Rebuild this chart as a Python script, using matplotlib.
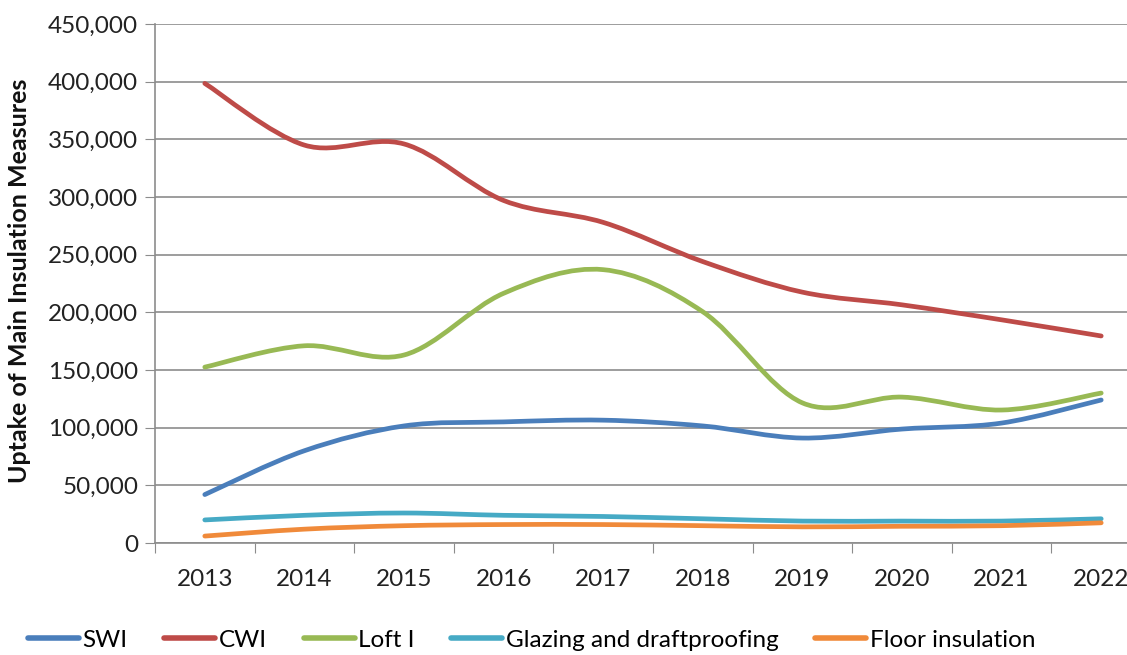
import matplotlib
matplotlib.use("Agg")
import matplotlib.pyplot as plt
from matplotlib.path import Path
from matplotlib.patches import PathPatch
from matplotlib.lines import Line2D
from matplotlib.ticker import FuncFormatter, MultipleLocator
import numpy as np

plt.rcParams['font.family'] = ['Lato', 'DejaVu Sans']

years = ['2013', '2014', '2015', '2016', '2017', '2018', '2019', '2020', '2021', '2022']
swi = [42000, 80000, 101500, 105000, 106500, 101500, 91000, 98800, 104000, 124000]
cwi = [398500, 345000, 346000, 297000, 278000, 244000, 217500, 206500, 193500, 179500]
loft = [152500, 171000, 163000, 216500, 237000, 200500, 121500, 126500, 115300, 130000]
glazing = [20000, 24000, 26000, 24000, 23000, 21000, 19000, 19000, 19000, 21000]
floor = [6000, 12000, 15000, 16000, 16000, 15000, 14000, 14500, 15000, 17500]

names = ['SWI', 'CWI', 'Loft I', 'Glazing and draftproofing', 'Floor insulation']
colours = ['#4a7ebb', '#be4b48', '#98b954', '#46aac5', '#f08a3a']


# excel-ish smoothed line: bezier segments through the points
def smooth_path(xs, ys, t=1.0 / 6):
    xs = np.asarray(xs, float)
    ys = np.asarray(ys, float)
    n = len(xs)
    verts = [(xs[0], ys[0])]
    codes = [Path.MOVETO]
    for i in range(n - 1):
        i0 = max(i - 1, 0)
        i3 = min(i + 2, n - 1)
        c1 = (xs[i] + (xs[i + 1] - xs[i0]) * t, ys[i] + (ys[i + 1] - ys[i0]) * t)
        c2 = (xs[i + 1] - (xs[i3] - xs[i]) * t, ys[i + 1] - (ys[i3] - ys[i]) * t)
        verts += [c1, c2, (xs[i + 1], ys[i + 1])]
        codes += [Path.CURVE4] * 3
    return Path(verts, codes)


fig = plt.figure(figsize=(11.27, 6.55), dpi=100)
ax = fig.add_axes([155 / 1127, 1 - 543 / 655, (1151 - 155) / 1127, (543 - 24) / 655])

x = np.arange(len(years))
series = [swi, cwi, loft, glazing, floor]
for vals, c in zip(series, colours):
    p = PathPatch(smooth_path(x, vals), facecolor='none', edgecolor=c,
                  lw=3.4, capstyle='round', joinstyle='round', zorder=3)
    ax.add_patch(p)

ax.set_xlim(-0.5, len(years) - 0.5)
ax.set_ylim(0, 450000)
ax.yaxis.set_major_locator(MultipleLocator(50000))
ax.yaxis.set_major_formatter(FuncFormatter(lambda v, pos: f'{int(v):,}'))
ax.set_xticks(np.arange(-0.5, len(years), 1.0))
ax.set_xticklabels([])
ax.set_xticks(x, minor=True)
ax.set_xticklabels(years, minor=True)
ax.tick_params(axis='x', which='major', direction='out', length=7, color='#8c8c8c')
ax.tick_params(axis='x', which='minor', length=0, labelsize=17.5, pad=19, labelcolor='#222222')
ax.tick_params(axis='y', direction='out', length=7, color='#8c8c8c', labelsize=17.5,
               pad=5, labelcolor='#222222')

ax.grid(axis='y', color='#8c8c8c', lw=1.2)
ax.set_axisbelow(True)
for s in ['top', 'right']:
    ax.spines[s].set_visible(False)
for s in ['left', 'bottom']:
    ax.spines[s].set_color('#8c8c8c')
    ax.spines[s].set_linewidth(1.2)

fig.text(20 / 1127, 1 - 281 / 655, 'Uptake of Main Insulation Measures', rotation=90,
         ha='center', va='center', fontsize=18, fontweight='bold', color='#111111')

handles = [Line2D([], [], color=c, lw=4, solid_capstyle='round') for c in colours]
fig.legend(handles, names, loc='center left', bbox_to_anchor=(28 / 1127, 1 - 640 / 655),
           ncol=5, frameon=False, fontsize=17.5, handlelength=2.1, handletextpad=0.15,
           columnspacing=1.5, borderaxespad=0, borderpad=0)

fig.savefig('out.png', dpi=100)
